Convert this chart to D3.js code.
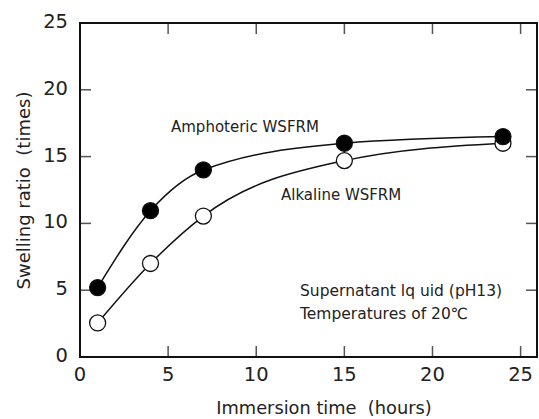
<!DOCTYPE html>
<html>
<head>
<meta charset="utf-8">
<script src="https://cdn.jsdelivr.net/npm/d3@7/dist/d3.min.js"></script>
<style>
html,body{margin:0;padding:0;background:#fff;}
svg{display:block;}
text{font-family:"DejaVu Sans",Verdana,sans-serif;fill:#222;}
</style>
</head>
<body>
<svg id="chart" width="539" height="419"></svg>
<script>
const hours = [1, 4, 7, 15, 24];
const amphoteric = [5.2, 10.95, 14.0, 16.0, 16.5];
const alkaline = [2.55, 7.0, 10.55, 14.7, 16.0];
const xTicks = [0, 5, 10, 15, 20, 25];
const yTicks = [0, 5, 10, 15, 20, 25];
const seriesNames = ["Amphoteric WSFRM", "Alkaline WSFRM"];
const notes = ["Supernatant lq uid (pH13)", "Temperatures of 20\u2103"];
const xTitle = "Immersion time\u00a0 (hours)";
const yTitle = "Swelling ratio\u00a0 (times)";

const svg = d3.select("#chart");
const L = 80, R = 537, T = 23, B = 357;
const x = d3.scaleLinear().domain([0, 25.93]).range([L, R]);
const y = d3.scaleLinear().domain([0, 25]).range([B, T]);

// ticks (inward, mirrored)
const tickLen = 11;
const tg = svg.append("g").attr("stroke", "#555").attr("stroke-width", 1.5);
xTicks.forEach(t => {
  if (t > 0) {
    tg.append("line").attr("x1", x(t)).attr("x2", x(t)).attr("y1", B).attr("y2", B - tickLen);
    tg.append("line").attr("x1", x(t)).attr("x2", x(t)).attr("y1", T).attr("y2", T + tickLen);
  }
});
yTicks.forEach(t => {
  if (t > 0 && t < 25) {
    tg.append("line").attr("x1", L).attr("x2", L + tickLen).attr("y1", y(t)).attr("y2", y(t));
    tg.append("line").attr("x1", R).attr("x2", R - tickLen).attr("y1", y(t)).attr("y2", y(t));
  }
});

// frame
svg.append("rect").attr("x", L).attr("y", T).attr("width", R - L).attr("height", B - T)
  .attr("fill", "none").attr("stroke", "#111").attr("stroke-width", 2);

// tick labels
svg.append("g").selectAll("text").data(xTicks).join("text")
  .attr("x", d => x(d)).attr("y", B + 24).attr("text-anchor", "middle")
  .attr("font-size", 19.5).text(d => d);
svg.append("g").selectAll("text").data(yTicks).join("text")
  .attr("x", L - 12).attr("y", d => y(d) + 5).attr("text-anchor", "end")
  .attr("font-size", 19.5).text(d => d);

// axis titles
svg.append("text").attr("x", 324).attr("y", 414).attr("text-anchor", "middle")
  .attr("font-size", 17.8).text(xTitle);
svg.append("text").attr("transform", `translate(30,190.5) rotate(-90)`)
  .attr("text-anchor", "middle").attr("font-size", 18).text(yTitle);

// lines
const line = d3.line().x(d => x(d[0])).y(d => y(d[1])).curve(d3.curveMonotoneX);
const s1 = hours.map((h, i) => [h, amphoteric[i]]);
const s2 = hours.map((h, i) => [h, alkaline[i]]);
[s1, s2].forEach(s => {
  svg.append("path").attr("d", line(s)).attr("fill", "none").attr("stroke", "#111").attr("stroke-width", 1.5);
});

// markers
svg.append("g").selectAll("circle").data(s2).join("circle")
  .attr("cx", d => x(d[0])).attr("cy", d => y(d[1])).attr("r", 8)
  .attr("fill", "#fff").attr("stroke", "#111").attr("stroke-width", 1.3);
svg.append("g").selectAll("circle").data(s1).join("circle")
  .attr("cx", d => x(d[0])).attr("cy", d => y(d[1])).attr("r", 8)
  .attr("fill", "#000").attr("stroke", "#111").attr("stroke-width", 1.3);

// labels
svg.append("text").attr("x", 171).attr("y", 132).attr("font-size", 15).text(seriesNames[0]);
svg.append("text").attr("x", 281).attr("y", 200).attr("font-size", 15).text(seriesNames[1]);
svg.append("text").attr("x", 300).attr("y", 296).attr("font-size", 15.5).text(notes[0]);
svg.append("text").attr("x", 300).attr("y", 319).attr("font-size", 15.5).text(notes[1]);
</script>
</body>
</html>
